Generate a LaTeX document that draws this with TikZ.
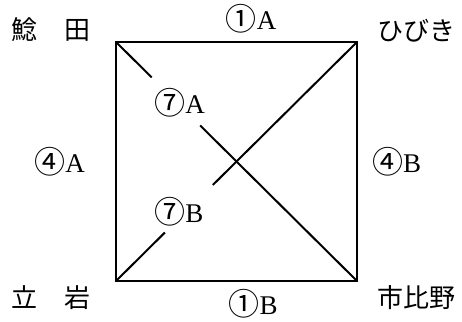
\documentclass[tikz,border=0pt]{standalone}
\usepackage{fontspec}
\setmainfont{Liberation Serif}
\newfontfamily\cjk{Noto Sans CJK JP}
\usetikzlibrary{calc}
\tikzset{
  edge/.style={line width=2pt},
  lbl/.style={inner sep=0pt, font=\fontsize{27}{30}\selectfont},
  place/.style={inner sep=0pt, font=\cjk\fontsize{26}{30}\selectfont},
}
\newcommand{\cn}[1]{{\cjk\fontsize{31}{30}\selectfont\raisebox{-1.5pt}{#1}}}
\begin{document}
\begin{tikzpicture}[x=1pt,y=-1pt]
\useasboundingbox (0,0) rectangle (462,321);
\coordinate (TL) at (116,42);
\coordinate (TR) at (357,42);
\coordinate (BL) at (116,281);
\coordinate (BR) at (357,281);
\draw[edge] (TL) rectangle (BR);
% diagonal TL-BR with gap
\draw[edge] (TL) -- ($(TL)!0.148!(BR)$);
\draw[edge] ($(TL)!0.349!(BR)$) -- (BR);
% diagonal BL-TR with gap
\draw[edge] (BL) -- ($(BL)!0.203!(TR)$);
\draw[edge] ($(BL)!0.402!(TR)$) -- (TR);
% labels
\node[lbl] (l1a) at (251,19) {\cn{①}A};
\node[lbl] (l1b) at (253,304) {\cn{①}B};
\node[lbl] (l4a) at (59.5,162) {\cn{④}A};
\node[lbl] (l4b) at (396.5,162) {\cn{④}B};
\node[lbl] (l7a) at (179.5,103) {\cn{⑦}A};
\node[lbl] (l7b) at (179,212) {\cn{⑦}B};
% places
\node[place] (p1) at (51,30) {鯰　田};
\node[place] (p2) at (416.5,31) {ひびき};
\node[place] (p3) at (51,298) {立　岩};
\node[place] (p4) at (416,298) {市比野};
\end{tikzpicture}
\end{document}
